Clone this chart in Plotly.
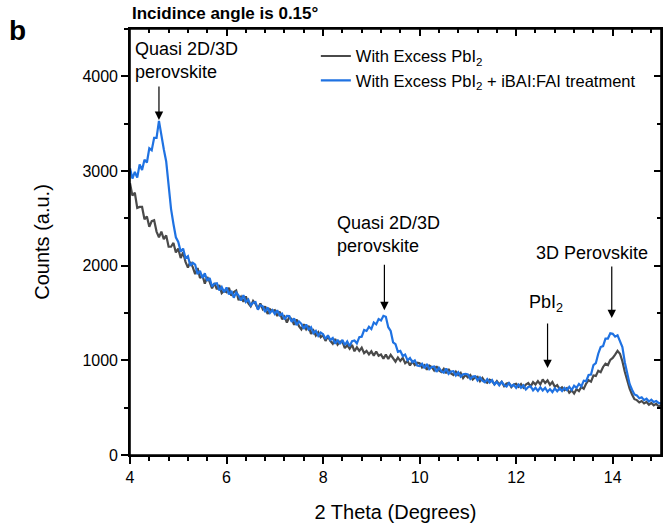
import numpy as np
import plotly.graph_objects as go

# 2-theta scan grid (degrees), 0.05 deg step from 4 to 15
two_theta = np.round(np.linspace(4.0, 15.0, 221), 2)

# With Excess PbI2 (counts)
counts_pbi2 = [
    2870, 2740, 2770, 2610, 2620, 2620, 2490, 2520, 2410, 2470, 2480, 2360, 2300, 2360, 2280, 2320, 2200, 2200, 2240, 2140,
    2180, 2080, 2140, 2040, 1980, 2040, 1985, 1910, 1975, 1870, 1900, 1810, 1880, 1830, 1760, 1815, 1750, 1795, 1710, 1735,
    1720, 1767, 1684, 1721, 1738, 1635, 1672, 1619, 1676, 1603, 1570, 1628, 1596, 1544, 1602, 1540, 1570, 1490, 1540, 1520,
    1530, 1468, 1516, 1434, 1462, 1400, 1458, 1436, 1374, 1432, 1360, 1326, 1382, 1328, 1364, 1280, 1316, 1262, 1298, 1244,
    1265, 1205, 1255, 1205, 1175, 1225, 1166, 1197, 1198, 1129, 1160, 1122, 1164, 1096, 1138, 1100, 1133, 1076, 1099, 1062,
    1096, 1050, 1094, 1048, 1062, 1016, 1060, 1014, 1058, 1022, 986, 1030, 993, 1026, 969, 992, 945, 988, 951, 974,
    970, 924, 948, 902, 946, 930, 894, 938, 892, 876, 910, 864, 908, 862, 846, 880, 844, 868, 812, 846,
    820, 844, 798, 822, 826, 780, 814, 778, 762, 796, 781, 746, 781, 746, 772, 728, 754, 760, 717, 744,
    752, 720, 750, 712, 745, 760, 725, 770, 745, 780, 745, 798, 760, 788, 742, 772, 720, 738, 695, 715,
    685, 705, 658, 682, 650, 695, 675, 720, 700, 755, 790, 775, 840, 835, 890, 875, 930, 965, 950, 1005,
    1025, 1060, 1100, 1070, 990, 880, 780, 700, 640, 590, 580, 555, 570, 545, 560, 530, 550, 525, 540, 515,
    525,
]

# With Excess PbI2 + iBAI:FAI treatment (counts)
counts_treated = [
    3030, 2920, 2990, 2930, 3070, 3010, 3120, 3090, 3240, 3220, 3350, 3350, 3530, 3400, 3230, 3100, 2820, 2600, 2440, 2300,
    2250, 2150, 2180, 2080, 2100, 2000, 2030, 2010, 1910, 1945, 1870, 1920, 1840, 1870, 1780, 1810, 1815, 1740, 1775, 1720,
    1770, 1697, 1734, 1661, 1718, 1685, 1632, 1689, 1616, 1643, 1580, 1608, 1616, 1534, 1582, 1570, 1510, 1560, 1500, 1530,
    1490, 1528, 1476, 1494, 1432, 1470, 1468, 1406, 1444, 1372, 1410, 1386, 1332, 1378, 1324, 1350, 1286, 1312, 1258, 1294,
    1275, 1225, 1265, 1215, 1235, 1175, 1218, 1172, 1216, 1162, 1200, 1150, 1202, 1210, 1180, 1245, 1250, 1320, 1310, 1355,
    1330, 1400, 1380, 1435, 1420, 1470, 1460, 1350, 1310, 1190, 1170, 1090, 1100, 1045, 1060, 1000, 1025, 980, 998, 946,
    940, 964, 918, 962, 906, 930, 934, 878, 922, 886, 870, 914, 858, 882, 886, 840, 874, 828, 852, 856,
    850, 804, 828, 832, 786, 820, 784, 768, 802, 766, 791, 746, 771, 736, 772, 738, 724, 760, 726, 742,
    708, 744, 710, 736, 692, 719, 726, 683, 710, 677, 714, 682, 710, 668, 696, 665, 704, 674, 705, 676,
    710, 685, 720, 686, 732, 710, 750, 725, 785, 780, 845, 850, 950, 970, 1070, 1140, 1150, 1230, 1230, 1285,
    1280, 1250, 1265, 1200, 1140, 980, 860, 750, 690, 640, 630, 600, 610, 580, 595, 565, 585, 560, 570, 550,
    545,
]

series_names = ["With Excess PbI<sub>2</sub>", "With Excess PbI<sub>2</sub> + iBAI:FAI treatment"]
peak_labels = ["Quasi 2D/3D<br>perovskite", "Quasi 2D/3D<br>perovskite", "PbI<sub>2</sub>", "3D Perovskite"]
peak_positions = [4.6, 9.27, 12.65, 13.98]
arrow_heads = [3540, 1530, 918, 1446]
arrow_lengths = [35, 47, 46, 53]
label_pos = [(4.06, 4164, "left"), (8.24, 2332, "left"), (12.62, 1604, "center"), (13.57, 2132, "center")]

FONT = "Arial, Liberation Sans, sans-serif"
LW = 1.6

fig = go.Figure()
fig.add_trace(go.Scatter(x=two_theta, y=counts_pbi2, mode="lines", name=series_names[0],
                         line=dict(color="#4a4a4a", width=2.2), xaxis="x", yaxis="y"))
fig.add_trace(go.Scatter(x=two_theta, y=counts_treated, mode="lines", name=series_names[1],
                         line=dict(color="#1f72e2", width=2.2), xaxis="x2", yaxis="y2"))

axis_common = dict(showgrid=False, zeroline=False, linecolor="black", linewidth=LW,
                   tickcolor="black", tickwidth=LW)
fig.update_layout(
    width=665, height=529,
    margin=dict(l=130, r=2, t=29, b=74),
    paper_bgcolor="white", plot_bgcolor="white",
    font=dict(family=FONT, color="black", size=16),
    xaxis=dict(range=[4, 15], dtick=2, tick0=4, ticks="outside", ticklen=7, showline=True, mirror=True,
               minor=dict(dtick=0.4, tick0=4, ticks="outside", ticklen=4, tickcolor="black", tickwidth=LW),
               title=dict(text="2 Theta (Degrees)", font=dict(size=20), standoff=20),
               tickfont=dict(size=16), **axis_common),
    yaxis=dict(range=[0, 4500], dtick=1000, tick0=0, ticks="outside", ticklen=7, showline=True, mirror=True,
               minor=dict(dtick=500, ticks="outside", ticklen=4, tickcolor="black", tickwidth=LW),
               title=dict(text="Counts (a.u.)", font=dict(size=20), standoff=27),
               tickfont=dict(size=16), **axis_common),
    xaxis2=dict(range=[4, 15], overlaying="x", side="top", anchor="y2", dtick=2, tick0=4,
                ticks="inside", ticklen=7, showticklabels=False, showline=False,
                minor=dict(dtick=0.4, tick0=4, ticks="inside", ticklen=4, tickcolor="black", tickwidth=LW),
                **axis_common),
    yaxis2=dict(range=[0, 4500], overlaying="y", side="right", anchor="x2", dtick=1000, tick0=0,
                ticks="inside", ticklen=7, showticklabels=False, showline=False,
                minor=dict(dtick=500, ticks="inside", ticklen=4, tickcolor="black", tickwidth=LW),
                **axis_common),
    legend=dict(x=0.35, y=0.977, xanchor="left", yanchor="top", bgcolor="rgba(0,0,0,0)",
                font=dict(size=16.5), tracegroupgap=0),
    showlegend=True,
    shapes=[dict(type="rect", xref="paper", yref="paper", x0=0, x1=1, y0=0, y1=1,
                 line=dict(color="black", width=LW), layer="above")],
)

annotations = []
for (lx, ly, anc), txt in zip(label_pos, peak_labels):
    annotations.append(dict(x=lx, y=ly, xref="x", yref="y", text=txt, showarrow=False,
                            xanchor=anc, yanchor="middle", align="left", font=dict(size=18)))
for px, hy, ln in zip(peak_positions, arrow_heads, arrow_lengths):
    annotations.append(dict(x=px, y=hy, xref="x", yref="y", text="", showarrow=True,
                            ax=0, ay=-ln, arrowhead=2, arrowsize=1.4, arrowwidth=1.2, arrowcolor="black"))
annotations.append(dict(x=0, y=1, xref="paper", yref="paper", yshift=16, text="<b>Incidince angle is 0.15°</b>",
                        showarrow=False, xanchor="left", yanchor="middle", font=dict(size=17)))
annotations.append(dict(x=-(130 - 17) / 533, y=1 + (29 - 30) / 426, xref="paper", yref="paper",
                        text="<b>b</b>", showarrow=False, xanchor="center", yanchor="middle",
                        font=dict(size=28)))
fig.update_layout(annotations=annotations)

fig.write_html("out.html")
